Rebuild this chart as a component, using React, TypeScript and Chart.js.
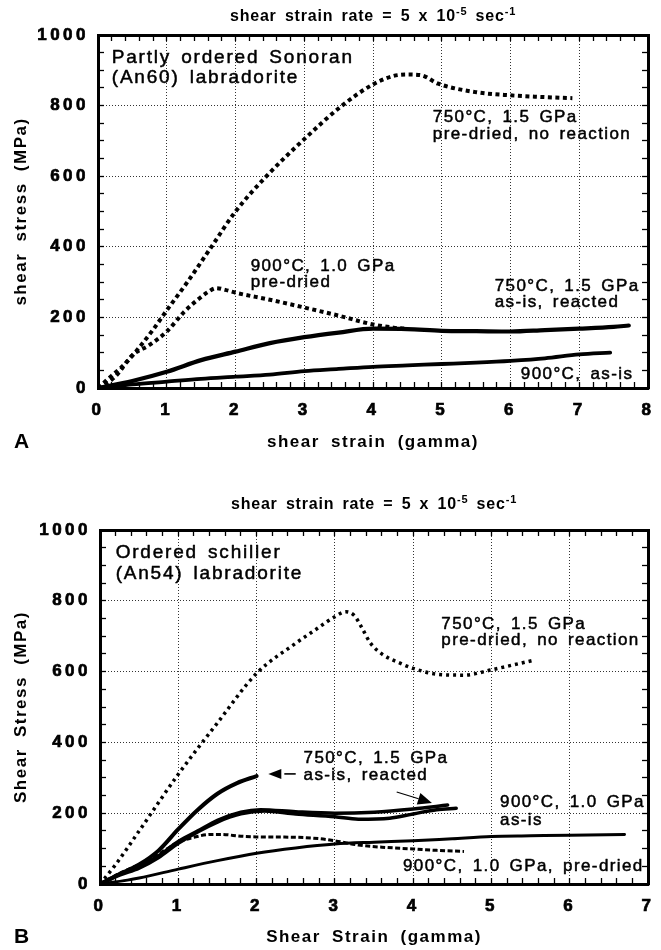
import React, { useEffect, useRef } from "react";
import { Chart, registerables } from "chart.js";

Chart.register(...registerables);

const FONT = "'Liberation Sans', Arial, Helvetica, sans-serif";
const GRID_COLOR = "#333";

// ---------------- Panel A : Partly ordered Sonoran (An60) labradorite ----------------
const A_X_TICKS = [0, 1, 2, 3, 4, 5, 6, 7, 8];
const A_Y_TICKS = [0, 200, 400, 600, 800, 1000];

const A_750_PREDRIED_X = [0, 0.2, 0.4, 0.6, 0.8, 1.0, 1.3, 1.65, 2.0, 2.45, 3.0, 3.55, 4.0, 4.3, 4.5, 4.7, 4.95, 5.5, 6.0, 6.5, 6.9];
const A_750_PREDRIED_Y = [0, 35, 70, 115, 165, 220, 300, 400, 500, 600, 705, 800, 860, 884, 888, 886, 862, 838, 829, 824, 821];

const A_900_PREDRIED_X = [0, 0.25, 0.5, 0.75, 1.0, 1.25, 1.45, 1.6, 1.72, 1.85, 2.0, 2.5, 3.0, 3.5, 4.0, 4.3, 4.5];
const A_900_PREDRIED_Y = [0, 32, 93, 122, 160, 215, 250, 272, 283, 278, 270, 250, 228, 205, 180, 171, 168];

const A_750_ASIS_X = [0, 0.5, 1.0, 1.5, 2.0, 2.5, 3.0, 3.5, 4.0, 4.5, 5.0, 5.5, 6.0, 6.5, 7.0, 7.5, 7.72];
const A_750_ASIS_Y = [0, 20, 46, 79, 103, 127, 144, 157, 168, 167, 162, 161, 160, 164, 168, 173, 177];

const A_900_ASIS_X = [0, 0.5, 1.0, 1.5, 2.0, 2.5, 3.0, 3.5, 4.0, 4.5, 5.0, 5.5, 6.0, 6.5, 7.0, 7.45];
const A_900_ASIS_Y = [0, 10, 18, 26, 32, 38, 48, 54, 60, 64, 68, 72, 77, 84, 95, 100];

// ---------------- Panel B : Ordered schiller (An54) labradorite ----------------
const B_X_TICKS = [0, 1, 2, 3, 4, 5, 6, 7];
const B_Y_TICKS = [0, 200, 400, 600, 800, 1000];

const B_750_PREDRIED_X = [0, 0.2, 0.5, 1.0, 1.5, 2.0, 2.5, 2.75, 3.0, 3.14, 3.25, 3.35, 3.45, 3.6, 3.84, 4.0, 4.33, 4.65, 5.0, 5.3, 5.54];
const B_750_PREDRIED_Y = [0, 55, 150, 310, 455, 595, 680, 718, 755, 769, 758, 722, 682, 650, 623, 609, 592, 590, 605, 620, 632];

const B_750_ASIS_SHORT_X = [0, 0.25, 0.5, 0.75, 1.0, 1.25, 1.5, 1.75, 2.0];
const B_750_ASIS_SHORT_Y = [0, 28, 55, 95, 155, 210, 255, 285, 305];

const B_750_ASIS_LONG_X = [0, 0.25, 0.5, 0.75, 1.0, 1.25, 1.5, 1.8, 2.05, 2.5, 3.0, 3.5, 4.0, 4.44];
const B_750_ASIS_LONG_Y = [0, 28, 50, 80, 120, 150, 180, 203, 210, 204, 200, 203, 212, 223];

const B_900_ASIS_X = [0, 0.25, 0.5, 0.75, 1.0, 1.5, 1.8, 2.1, 2.5, 3.0, 3.3, 3.7, 4.0, 4.3, 4.55];
const B_900_ASIS_Y = [0, 25, 45, 75, 115, 175, 198, 206, 198, 190, 183, 186, 198, 210, 214];

const B_900_LOWER_X = [0, 0.35, 0.5, 1.0, 1.5, 2.0, 2.5, 3.0, 3.5, 4.0, 4.5, 5.0, 5.5, 6.0, 6.7];
const B_900_LOWER_Y = [0, 11, 17, 42, 66, 87, 102, 113, 118, 122, 128, 134, 136, 138, 140];

const B_900_PREDRIED_X = [0, 0.25, 0.5, 0.75, 1.0, 1.2, 1.42, 1.55, 1.8, 2.0, 2.5, 2.8, 3.0, 3.3, 3.6, 4.0, 4.3, 4.65];
const B_900_PREDRIED_Y = [0, 30, 55, 85, 118, 132, 140, 140, 135, 133, 132, 128, 122, 110, 104, 99, 95, 92];

// heading: "shear strain rate = 5 x 10^-5 sec^-1"
const HEADING_PARTS = [
  { t: "shear strain rate = 5 x 10", sup: false },
  { t: "-5", sup: true },
  { t: " sec", sup: false },
  { t: "-1", sup: true },
];

type Series = { label: string; x: number[]; y: number[]; width: number; dash: number[] };
type Note = { x: number; y: number; lines: string[]; size: number; lh: number; ls: number };
type Arrow = { x1: number; y1: number; x2: number; y2: number; head: number; hw: number; gap: number; lw: number };
type PanelSpec = {
  id: string;
  letter: string;
  top: number;
  height: number;
  padTop: number;
  padRight: number;
  yAxisWidth: number;
  xAxisHeight: number;
  xMax: number;
  xTicks: number[];
  yTicks: number[];
  xTitle: string;
  yTitle: string;
  xTitlePad: number;
  xTickPad: number;
  headingY: number;
  letterY: number;
  series: Series[];
  notes: Note[];
  arrows: Arrow[];
};

const DOT_A = [4, 3.5];
const PANEL_A: PanelSpec = {
  id: "A",
  letter: "A",
  top: 0,
  height: 470,
  padTop: 35,
  padRight: 13,
  yAxisWidth: 98,
  xAxisHeight: 82,
  xMax: 8,
  xTicks: A_X_TICKS,
  yTicks: A_Y_TICKS,
  xTitle: "shear strain (gamma)",
  yTitle: "shear stress (MPa)",
  xTitlePad: 17.8,
  xTickPad: 18,
  headingY: 15,
  letterY: 442,
  series: [
    { label: "750°C, 1.5 GPa pre-dried, no reaction", x: A_750_PREDRIED_X, y: A_750_PREDRIED_Y, width: 4, dash: DOT_A },
    { label: "900°C, 1.0 GPa pre-dried", x: A_900_PREDRIED_X, y: A_900_PREDRIED_Y, width: 4, dash: DOT_A },
    { label: "750°C, 1.5 GPa as-is, reacted", x: A_750_ASIS_X, y: A_750_ASIS_Y, width: 4.2, dash: [] },
    { label: "900°C, as-is", x: A_900_ASIS_X, y: A_900_ASIS_Y, width: 3.8, dash: [] },
  ],
  notes: [
    { x: 0.2, y: 935, lines: ["Partly ordered Sonoran", "(An60) labradorite"], size: 19, lh: 20, ls: 1.8 },
    { x: 4.87, y: 768, lines: ["750°C, 1.5 GPa", "pre-dried, no reaction"], size: 17, lh: 17, ls: 1.4 },
    { x: 2.22, y: 344, lines: ["900°C, 1.0 GPa", "pre-dried"], size: 17, lh: 16, ls: 1.4 },
    { x: 5.77, y: 289, lines: ["750°C, 1.5 GPa", "as-is, reacted"], size: 17, lh: 16, ls: 1.4 },
    { x: 6.15, y: 40, lines: ["900°C, as-is"], size: 17, lh: 16, ls: 1.4 },
  ],
  arrows: [],
};

const PANEL_B: PanelSpec = {
  id: "B",
  letter: "B",
  top: 470,
  height: 480,
  padTop: 60,
  padRight: 13,
  yAxisWidth: 100,
  xAxisHeight: 66,
  xMax: 7,
  xTicks: B_X_TICKS,
  yTicks: B_Y_TICKS,
  xTitle: "Shear Strain (gamma)",
  yTitle: "Shear Stress (MPa)",
  xTitlePad: 2.8,
  xTickPad: 18.3,
  headingY: 33,
  letterY: 467,
  series: [
    { label: "750°C, 1.5 GPa pre-dried, no reaction", x: B_750_PREDRIED_X, y: B_750_PREDRIED_Y, width: 3.5, dash: [3, 4] },
    { label: "750°C, 1.5 GPa as-is, reacted (1)", x: B_750_ASIS_SHORT_X, y: B_750_ASIS_SHORT_Y, width: 4, dash: [] },
    { label: "750°C, 1.5 GPa as-is, reacted (2)", x: B_750_ASIS_LONG_X, y: B_750_ASIS_LONG_Y, width: 3.5, dash: [] },
    { label: "900°C, 1.0 GPa as-is", x: B_900_ASIS_X, y: B_900_ASIS_Y, width: 3.5, dash: [] },
    { label: "900°C, 1.0 GPa as-is (2)", x: B_900_LOWER_X, y: B_900_LOWER_Y, width: 3, dash: [] },
    { label: "900°C, 1.0 GPa, pre-dried", x: B_900_PREDRIED_X, y: B_900_PREDRIED_Y, width: 3, dash: [5, 2.5] },
  ],
  notes: [
    { x: 0.2, y: 935, lines: ["Ordered schiller", "(An54) labradorite"], size: 19, lh: 21, ls: 1.8 },
    { x: 4.36, y: 734, lines: ["750°C, 1.5 GPa", "pre-dried, no reaction"], size: 17, lh: 16, ls: 1.4 },
    { x: 2.6, y: 356, lines: ["750°C, 1.5 GPa", "as-is, reacted"], size: 17, lh: 17, ls: 1.4 },
    { x: 5.11, y: 232, lines: ["900°C, 1.0 GPa", "as-is"], size: 17, lh: 18, ls: 1.4 },
    { x: 3.87, y: 51, lines: ["900°C, 1.0 GPa, pre-dried"], size: 17, lh: 16, ls: 1.4 },
  ],
  arrows: [
    { x1: 2.5, y1: 311, x2: 2.15, y2: 311, head: 13, hw: 5, gap: 3, lw: 1.6 },
    { x1: 3.79, y1: 260, x2: 4.24, y2: 229, head: 14, hw: 6, gap: 0, lw: 1.2 },
  ],
};

function isIn(list: number[], v: number | undefined) {
  if (v === undefined || v === null) return false;
  return list.some((t) => Math.abs(t - v) < 1e-6);
}

function zeroPad(s: any) {
  s.paddingLeft = 0;
  s.paddingRight = 0;
  s.paddingTop = 0;
  s.paddingBottom = 0;
}

function drawHeading(ctx: any, cx: number, cy: number) {
  const mainFont = `bold 16px ${FONT}`;
  const supFont = `bold 11px ${FONT}`;
  ctx.letterSpacing = "0.8px";
  ctx.wordSpacing = "3px";
  const widths = HEADING_PARTS.map((p) => {
    ctx.font = p.sup ? supFont : mainFont;
    return ctx.measureText(p.t).width;
  });
  const total = widths.reduce((a, b) => a + b, 0);
  let x = cx - total / 2;
  const base = cy + 6;
  ctx.textAlign = "left";
  ctx.textBaseline = "alphabetic";
  HEADING_PARTS.forEach((p, i) => {
    ctx.font = p.sup ? supFont : mainFont;
    ctx.fillText(p.t, x, p.sup ? base - 6 : base);
    x += widths[i];
  });
}

function drawArrow(ctx: any, x1: number, y1: number, x2: number, y2: number, a: Arrow) {
  const dx = x2 - x1;
  const dy = y2 - y1;
  const len = Math.hypot(dx, dy) || 1;
  const ux = dx / len;
  const uy = dy / len;
  const bx = x2 - ux * a.head;
  const by = y2 - uy * a.head;
  ctx.lineWidth = a.lw;
  ctx.beginPath();
  ctx.moveTo(x1, y1);
  ctx.lineTo(bx - ux * a.gap, by - uy * a.gap);
  ctx.stroke();
  ctx.beginPath();
  ctx.moveTo(x2, y2);
  ctx.lineTo(bx - uy * a.hw, by + ux * a.hw);
  ctx.lineTo(bx + uy * a.hw, by - ux * a.hw);
  ctx.closePath();
  ctx.fill();
}

function decorPlugin(spec: PanelSpec) {
  return {
    id: "decor" + spec.id,
    beforeDraw(chart: any) {
      const ctx = chart.ctx;
      ctx.letterSpacing = "1.5px";
      ctx.wordSpacing = "5px";
    },
    afterDatasetsDraw(chart: any) {
      const ctx = chart.ctx;
      ctx.letterSpacing = "3.5px";
      ctx.wordSpacing = "0px";
    },
    afterDraw(chart: any) {
      const ctx = chart.ctx;
      const xs = chart.scales.x;
      const ys = chart.scales.y;
      const area = chart.chartArea;
      ctx.save();
      ctx.fillStyle = "#000";
      ctx.strokeStyle = "#000";
      drawHeading(ctx, (area.left + area.right) / 2, spec.headingY);

      ctx.textAlign = "left";
      ctx.textBaseline = "middle";
      ctx.wordSpacing = "3px";
      ctx.lineWidth = 0.5;
      ctx.lineJoin = "round";
      for (const n of spec.notes) {
        ctx.font = `${n.size}px ${FONT}`;
        ctx.letterSpacing = `${n.ls}px`;
        const px = xs.getPixelForValue(n.x);
        const py = ys.getPixelForValue(n.y);
        n.lines.forEach((line, i) => {
          ctx.fillText(line, px, py + i * n.lh);
          ctx.strokeText(line, px, py + i * n.lh);
        });
      }
      for (const a of spec.arrows) {
        drawArrow(
          ctx,
          xs.getPixelForValue(a.x1),
          ys.getPixelForValue(a.y1),
          xs.getPixelForValue(a.x2),
          ys.getPixelForValue(a.y2),
          a
        );
      }
      ctx.letterSpacing = "0px";
      ctx.wordSpacing = "0px";
      ctx.font = `bold 21px ${FONT}`;
      ctx.textAlign = "left";
      ctx.textBaseline = "middle";
      ctx.fillText(spec.letter, 14, spec.letterY);
      ctx.restore();
      ctx.letterSpacing = "0px";
      ctx.wordSpacing = "0px";
    },
  };
}

function buildConfig(spec: PanelSpec) {
  const tickFont = { family: FONT, size: 17, weight: "bold" as const };
  const titleFont = { family: FONT, size: 17, weight: "bold" as const };
  const datasets = spec.series.map((s) => ({
    label: s.label,
    data: s.x.map((x, i) => ({ x, y: s.y[i] })),
    borderColor: "#000",
    backgroundColor: "#000",
    borderWidth: s.width,
    borderDash: s.dash,
    borderCapStyle: s.dash.length ? "butt" : "round",
    borderJoinStyle: "round",
    pointRadius: 0,
    pointHoverRadius: 0,
    fill: false,
    cubicInterpolationMode: "monotone",
    xAxisID: "x",
    yAxisID: "y",
  }));
  return {
    type: "line",
    data: { datasets },
    options: {
      responsive: false,
      maintainAspectRatio: false,
      animation: false,
      events: [],
      layout: { padding: { top: spec.padTop, right: spec.padRight, left: 0, bottom: 0 } },
      plugins: { legend: { display: false }, tooltip: { enabled: false }, title: { display: false } },
      scales: {
        x: {
          type: "linear",
          position: "bottom",
          min: 0,
          max: spec.xMax,
          afterFit: (s: any) => {
            s.height = spec.xAxisHeight;
            zeroPad(s);
          },
          ticks: {
            stepSize: 0.2,
            autoSkip: false,
            maxRotation: 0,
            minRotation: 0,
            padding: spec.xTickPad,
            color: "#000",
            textStrokeColor: "#000",
            textStrokeWidth: 0.7,
            font: tickFont,
            z: 1,
            callback: (v: number) => (isIn(spec.xTicks, v) ? String(Math.round(v)) : ""),
          },
          grid: {
            color: (c: any) => (isIn(spec.xTicks, c.tick && c.tick.value) ? GRID_COLOR : "transparent"),
            lineWidth: 1,
            tickColor: "#000",
            tickLength: -6,
            tickWidth: 1.3,
          },
          border: { color: "#000", width: 3, dash: [1, 2] },
          title: { display: true, text: spec.xTitle, color: "#000", font: titleFont, padding: { top: 0, bottom: spec.xTitlePad } },
        },
        y: {
          type: "linear",
          position: "left",
          min: 0,
          max: 1000,
          afterFit: (s: any) => {
            s.width = spec.yAxisWidth;
            zeroPad(s);
          },
          ticks: {
            stepSize: 50,
            autoSkip: false,
            padding: 15,
            color: "#000",
            textStrokeColor: "#000",
            textStrokeWidth: 0.7,
            font: tickFont,
            z: 1,
            callback: (v: number) => (isIn(spec.yTicks, v) ? String(v) : ""),
          },
          grid: {
            color: (c: any) => (isIn(spec.yTicks, c.tick && c.tick.value) ? GRID_COLOR : "transparent"),
            lineWidth: 1,
            tickColor: "#000",
            tickLength: -6,
            tickWidth: 1.3,
          },
          border: { color: "#000", width: 3, dash: [1, 2] },
          title: { display: true, text: spec.yTitle, color: "#000", font: titleFont, padding: { top: 11, bottom: 0 } },
        },
        x2: {
          type: "linear",
          position: "top",
          min: 0,
          max: spec.xMax,
          afterFit: (s: any) => {
            s.height = 0;
            zeroPad(s);
          },
          ticks: { display: false, stepSize: 0.2, autoSkip: false },
          grid: { drawOnChartArea: false, color: "#000", tickColor: "#000", tickLength: -6, tickWidth: 1.3 },
          border: { color: "#000", width: 3 },
        },
        y2: {
          type: "linear",
          position: "right",
          min: 0,
          max: 1000,
          afterFit: (s: any) => {
            s.width = 0;
            zeroPad(s);
          },
          ticks: { display: false, stepSize: 50, autoSkip: false },
          grid: { drawOnChartArea: false, color: "#000", tickColor: "#000", tickLength: -6, tickWidth: 1.3 },
          border: { color: "#000", width: 3 },
        },
      },
    },
    plugins: [decorPlugin(spec)],
  };
}

function Panel({ spec }: { spec: PanelSpec }) {
  const ref = useRef<HTMLCanvasElement>(null);
  useEffect(() => {
    if (!ref.current) return;
    const chart = new Chart(ref.current, buildConfig(spec) as any);
    return () => chart.destroy();
  }, [spec]);
  return (
    <canvas
      ref={ref}
      width={661}
      height={spec.height}
      style={{ position: "absolute", left: 0, top: spec.top, width: 661, height: spec.height, display: "block" }}
    />
  );
}

export default function App() {
  return (
    <div style={{ position: "absolute", left: 0, top: 0, width: 661, height: 950, background: "#fff", overflow: "hidden" }}>
      <Panel spec={PANEL_A} />
      <Panel spec={PANEL_B} />
    </div>
  );
}
